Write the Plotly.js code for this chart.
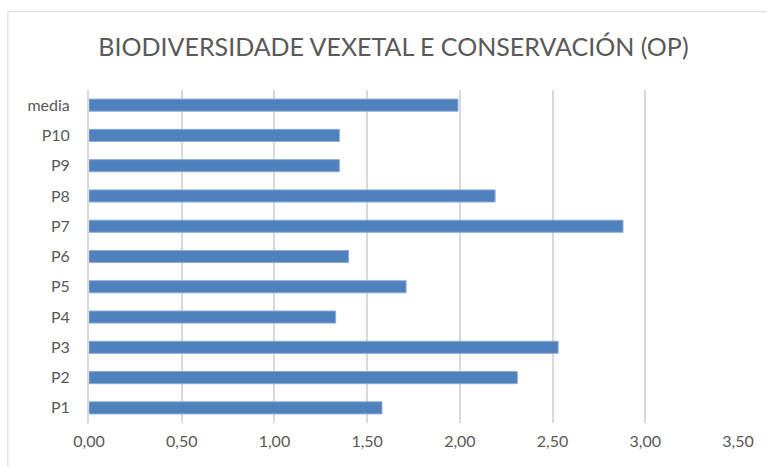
<!DOCTYPE html>
<html>
<head>
<meta charset="utf-8">
<script src="https://cdn.plot.ly/plotly-3.0.1.min.js"></script>
<style>html,body{margin:0;padding:0;background:#fff;}#chart{width:767px;height:467px;}</style>
</head>
<body>
<div id="chart"></div>
<script>
const categories = ["P1","P2","P3","P4","P5","P6","P7","P8","P9","P10","media"];
const values = [1.58, 2.31, 2.53, 1.33, 1.71, 1.40, 2.88, 2.19, 1.35, 1.35, 1.99];
const xTickVals = [0, 0.5, 1, 1.5, 2, 2.5, 3, 3.5];
const xTickText = ["0,00","0,50","1,00","1,50","2,00","2,50","3,00","3,50"];
const titleText = "BIODIVERSIDADE VEXETAL E CONSERVACIÓN (OP)";

const trace = {
  type: "bar",
  orientation: "h",
  y: categories,
  x: values,
  width: 0.4,
  marker: {color: "#4F81BD", line: {color: "#8CAAD6", width: 1}},
  hoverinfo: "x+y"
};

const layout = {
  width: 767, height: 467,
  margin: {l: 89, r: 29, t: 90, b: 44},
  paper_bgcolor: "#ffffff",
  plot_bgcolor: "#ffffff",
  font: {family: "Lato, 'Open Sans', sans-serif", color: "#595959"},
  title: {
    text: titleText,
    font: {size: 25, color: "#595959", family: "Lato, 'Open Sans', sans-serif"},
    x: 0.513, xref: "container", xanchor: "center",
    y: 0.899, yref: "container", yanchor: "middle"
  },
  xaxis: {
    range: [0, 3.5],
    tickvals: xTickVals,
    ticktext: xTickText,
    showgrid: true,
    gridcolor: "#D9D9D9",
    gridwidth: 2,
    zeroline: false,
    showline: false,
    ticks: "",
    tickfont: {size: 16, color: "#595959"},
    ticklabelstandoff: 7,
    fixedrange: true
  },
  yaxis: {
    type: "category",
    categoryorder: "array",
    categoryarray: categories,
    showgrid: false,
    showline: true,
    linecolor: "#D9D9D9",
    linewidth: 2,
    ticks: "",
    tickfont: {size: 16, color: "#595959"},
    ticklabelstandoff: 14,
    fixedrange: true
  },
  shapes: [{
    type: "rect", xref: "paper", yref: "paper",
    x0: -0.125, x1: 1.1, y0: -0.2, y1: 1.235,
    line: {color: "#D9D9D9", width: 1}, fillcolor: "rgba(0,0,0,0)", layer: "below"
  }],
  bargap: 0.6,
  showlegend: false
};

Plotly.newPlot("chart", [trace], layout, {displayModeBar: false, staticPlot: true});
</script>
</body>
</html>
